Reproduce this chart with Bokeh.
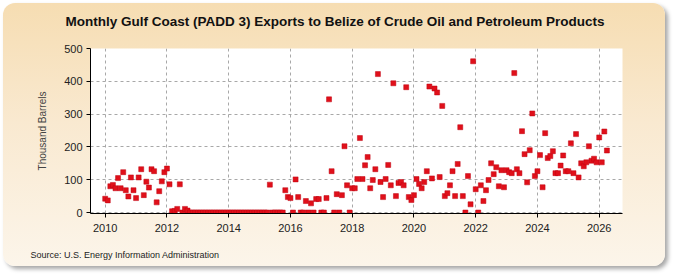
from bokeh.plotting import figure
from bokeh.models import Title, FixedTicker, Range1d
from bokeh.embed import file_html
from bokeh.resources import INLINE

start_year = 2010
v2010 = [42, 37, 80, 84, 74, 105, 74, 123, 68, 49, 107, 68]
v2011 = [44, 107, 132, 53, 94, 76, 132, 126, 31, 65, 95, 123]
v2012 = [134, 86, 4, 5, 11, 86, 0, 11, 6, 0, 0, 0]
v2013 = [0, 0, 0, 0, 0, 0, 0, 0, 0, 0, 0, 0]
v2014 = [0, 0, 0, 0, 0, 0, 0, 0, 0, 0, 0, 0]
v2015 = [0, 0, 0, 0, 85, 0, 0, 0, 0, 0, 68, 47]
v2016 = [44, 0, 101, 47, 0, 0, 35, 0, 28, 0, 41, 41]
v2017 = [0, 0, 44, 345, 126, 0, 56, 0, 53, 202, 83, 0]
v2018 = [74, 74, 102, 227, 102, 144, 169, 74, 99, 132, 422, 93]
v2019 = [47, 102, 145, 83, 394, 50, 90, 93, 83, 382, 47, 38]
v2020 = [53, 102, 87, 74, 93, 126, 384, 104, 378, 366, 108, 325]
v2021 = [50, 59, 83, 126, 50, 148, 260, 50, 0, 111, 25, 461]
v2022 = [71, 0, 83, 35, 68, 99, 150, 117, 138, 80, 129, 77]
v2023 = [129, 123, 120, 425, 132, 120, 248, 178, 92, 190, 302, 111]
v2024 = [126, 175, 77, 242, 166, 172, 187, 120, 120, 143, 174, 126]
v2025 = [126, 211, 120, 239, 107, 150, 141, 153, 202, 158, 164, 153]
v2026 = [229, 153, 247, 189]

yearly = [v2010, v2011, v2012, v2013, v2014, v2015, v2016, v2017, v2018,
          v2019, v2020, v2021, v2022, v2023, v2024, v2025, v2026]

x_ticks = [2010, 2012, 2014, 2016, 2018, 2020, 2022, 2024, 2026]
y_ticks = [0, 100, 200, 300, 400, 500]

title_text = "Monthly Gulf Coast (PADD 3) Exports to Belize of Crude Oil and Petroleum Products"
y_label = "Thousand Barrels"
source_text = "Source: U.S. Energy Information Administration"

xs, ys = [], []
for k, vals in enumerate(yearly):
    for i, v in enumerate(vals):
        xs.append(start_year + k + i / 12.0)
        ys.append(v)

W, H = 662, 263
p = figure(width=W, height=H,
           x_range=Range1d(2009.524, 2026.755), y_range=Range1d(-3, 500),
           output_backend="svg", toolbar_location=None,
           min_border_left=87, min_border_right=43,
           min_border_top=45, min_border_bottom=53)
p.border_fill_color = None
p.background_fill_color = "white"
p.outline_line_color = None
p.styles = {
    "background": "linear-gradient(180deg, #F6DDB2 0%, #F9E9D0 45%, #FCF5EA 100%)",
    "border-radius": "12px",
    "box-shadow": "3px 3px 4px rgba(0,0,0,0.35)",
    "margin-left": "3px",
    "margin-top": "3px",
}

# a blank second line lifts the title toward the top of the panel
p.title.text = title_text + "\n "
p.title.align = "left"
p.title.vertical_align = "top"
p.title.offset = -25
p.title.standoff = 6
p.title.text_font = "Liberation Sans"
p.title.text_font_style = "bold"
p.title.text_font_size = "13.5px"
p.title.text_color = "#111111"

# a blank first line pushes the source note toward the bottom of the panel
p.add_layout(Title(text=" \n" + source_text, align="left", vertical_align="bottom",
                   offset=-60, standoff=6,
                   text_font="Liberation Sans", text_font_style="normal",
                   text_font_size="9px", text_color="#222222"), "below")

p.scatter(xs, ys, marker="square", size=5, fill_color="#E0101A",
          line_color="#C00010", line_width=0.5)

for ax in (p.xaxis, p.yaxis):
    ax.axis_line_color = "black"
    ax.axis_line_width = 1
    ax.major_tick_line_color = "black"
    ax.major_tick_in = 0
    ax.major_tick_out = 4
    ax.minor_tick_line_color = None
    ax.major_label_text_font = "Liberation Sans"
    ax.major_label_text_font_size = "11px"
    ax.major_label_text_color = "#222222"

p.xaxis.ticker = FixedTicker(ticks=x_ticks)
p.yaxis.ticker = FixedTicker(ticks=y_ticks)
p.xaxis.major_label_standoff = 6
p.yaxis.major_label_standoff = 4
p.yaxis.axis_label = y_label
p.yaxis.axis_label_text_font = "Liberation Sans"
p.yaxis.axis_label_text_font_style = "normal"
p.yaxis.axis_label_text_font_size = "10px"
p.yaxis.axis_label_standoff = 13

p.xgrid.ticker = FixedTicker(ticks=x_ticks)
p.ygrid.ticker = FixedTicker(ticks=y_ticks)
for g in (p.xgrid, p.ygrid):
    g.grid_line_color = "#A8A8A8"
    g.grid_line_dash = "3 3"
    g.grid_line_width = 1

open("out.html", "w").write(file_html(p, INLINE))
